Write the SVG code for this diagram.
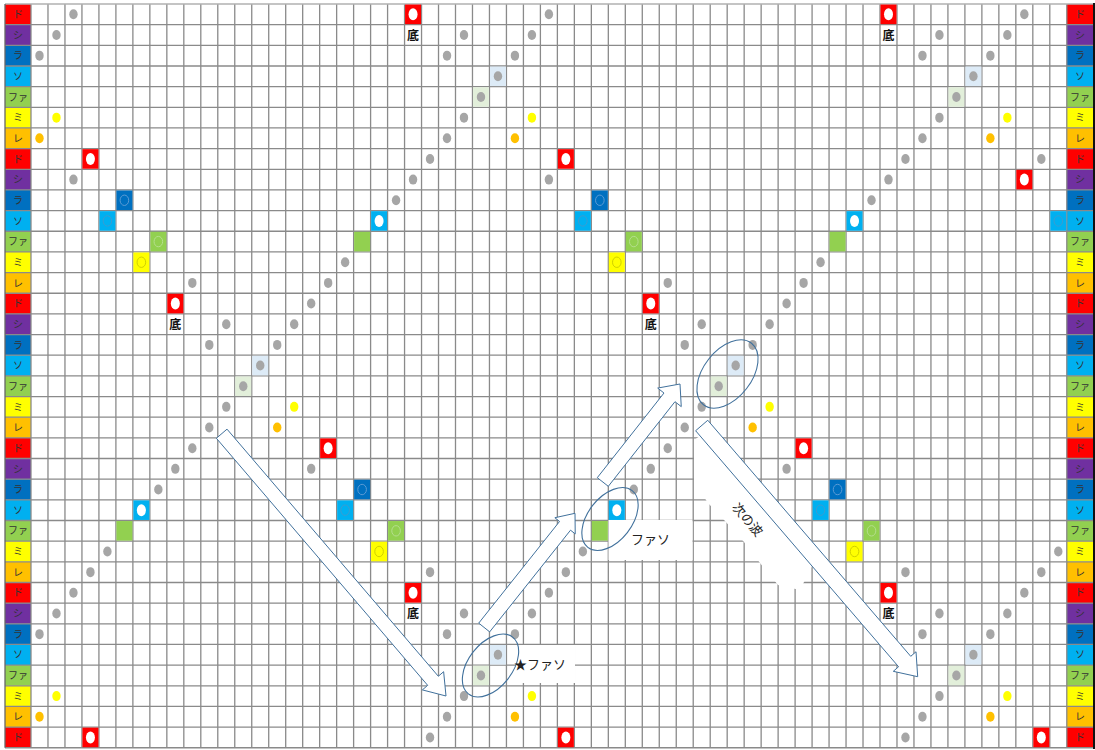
<svg xmlns="http://www.w3.org/2000/svg" xmlns:xlink="http://www.w3.org/1999/xlink" width="1095" height="750" viewBox="0 0 1095 750">
<style>
.lb{font-family:"Noto Sans CJK JP",sans-serif;font-size:10px;fill:#333;text-anchor:middle}
.bt{font-family:"Noto Sans CJK JP",sans-serif;font-size:12px;font-weight:bold;fill:#111;text-anchor:middle}
.an{font-family:"Noto Sans CJK JP",sans-serif;font-size:13px;fill:#222}
.arr{fill:#fff;stroke:#41719C;stroke-width:1}
.ell{fill:none;stroke:#41719C;stroke-width:1.1}
.c0{fill:#FF0000}.c1{fill:#7030A0}.c2{fill:#0070C0}.c3{fill:#00B0F0}.c4{fill:#92D050}.c5{fill:#FFFF00}.c6{fill:#FFC000}
</style>
<defs>
<g id="g"><ellipse rx="4.2" ry="5" fill="#A6A6A6"/></g>
<g id="yd"><ellipse rx="4.2" ry="5" fill="#FFFF00"/></g>
<g id="od"><ellipse rx="4.2" ry="5" fill="#FFC000"/></g>
<g id="lbg"><rect x="-8" y="-9.8" width="16" height="19.6" fill="#DDEBF7"/><ellipse rx="4.2" ry="5" fill="#A6A6A6"/></g>
<g id="lgg"><rect x="-8" y="-9.8" width="16" height="19.6" fill="#E2EFDA"/><ellipse rx="4.2" ry="5" fill="#A6A6A6"/></g>
<g id="R"><rect x="-8" y="-9.8" width="16" height="19.6" fill="#FF0000"/><ellipse rx="4.5" ry="6" fill="#fff"/></g>
<g id="B"><rect x="-8" y="-9.8" width="16" height="19.6" fill="#0070C0"/><ellipse rx="4.3" ry="5.2" fill="none" stroke="#5B9BD5" stroke-width="1"/></g>
<g id="L"><rect x="-8" y="-9.8" width="16" height="19.6" fill="#00B0F0"/><ellipse rx="4.3" ry="5.2" fill="none" stroke="#3C9CD0" stroke-width="1"/></g>
<g id="W"><rect x="-8" y="-9.8" width="16" height="19.6" fill="#00B0F0"/><ellipse rx="4.5" ry="6" fill="#fff"/></g>
<g id="G"><rect x="-8" y="-9.8" width="16" height="19.6" fill="#92D050"/><ellipse rx="4.3" ry="5.2" fill="none" stroke="#B5DE8E" stroke-width="1"/></g>
<g id="P"><rect x="-8" y="-9.8" width="16" height="19.6" fill="#92D050"/></g>
<g id="Y"><rect x="-8" y="-9.8" width="16" height="19.6" fill="#FFFF00"/><ellipse rx="4.3" ry="5.2" fill="none" stroke="#D0D000" stroke-width="1"/></g>
</defs>
<rect width="1095" height="750" fill="#fff"/>
<g id="labels-left">
<rect class="c0" x="5" y="4" width="26" height="20.66"/><rect class="c1" x="5" y="24.66" width="26" height="20.66"/><rect class="c2" x="5" y="45.32" width="26" height="20.66"/><rect class="c3" x="5" y="65.98" width="26" height="20.66"/><rect class="c4" x="5" y="86.64" width="26" height="20.66"/><rect class="c5" x="5" y="107.3" width="26" height="20.66"/><rect class="c6" x="5" y="127.96" width="26" height="20.66"/>
<rect class="c0" x="5" y="148.62" width="26" height="20.66"/><rect class="c1" x="5" y="169.28" width="26" height="20.66"/><rect class="c2" x="5" y="189.94" width="26" height="20.66"/><rect class="c3" x="5" y="210.6" width="26" height="20.66"/><rect class="c4" x="5" y="231.26" width="26" height="20.66"/><rect class="c5" x="5" y="251.92" width="26" height="20.66"/><rect class="c6" x="5" y="272.58" width="26" height="20.66"/>
<rect class="c0" x="5" y="293.24" width="26" height="20.66"/><rect class="c1" x="5" y="313.9" width="26" height="20.66"/><rect class="c2" x="5" y="334.56" width="26" height="20.66"/><rect class="c3" x="5" y="355.22" width="26" height="20.66"/><rect class="c4" x="5" y="375.88" width="26" height="20.66"/><rect class="c5" x="5" y="396.54" width="26" height="20.66"/><rect class="c6" x="5" y="417.2" width="26" height="20.66"/>
<rect class="c0" x="5" y="437.86" width="26" height="20.66"/><rect class="c1" x="5" y="458.52" width="26" height="20.66"/><rect class="c2" x="5" y="479.18" width="26" height="20.66"/><rect class="c3" x="5" y="499.84" width="26" height="20.66"/><rect class="c4" x="5" y="520.5" width="26" height="20.66"/><rect class="c5" x="5" y="541.16" width="26" height="20.66"/><rect class="c6" x="5" y="561.82" width="26" height="20.66"/>
<rect class="c0" x="5" y="582.48" width="26" height="20.66"/><rect class="c1" x="5" y="603.14" width="26" height="20.66"/><rect class="c2" x="5" y="623.8" width="26" height="20.66"/><rect class="c3" x="5" y="644.46" width="26" height="20.66"/><rect class="c4" x="5" y="665.12" width="26" height="20.66"/><rect class="c5" x="5" y="685.78" width="26" height="20.66"/><rect class="c6" x="5" y="706.44" width="26" height="20.66"/>
<rect class="c0" x="5" y="727.1" width="26" height="20.66"/>
</g>
<g id="labels-right">
<rect class="c0" x="1066.78" y="4" width="26.5" height="20.66"/><rect class="c1" x="1066.78" y="24.66" width="26.5" height="20.66"/><rect class="c2" x="1066.78" y="45.32" width="26.5" height="20.66"/><rect class="c3" x="1066.78" y="65.98" width="26.5" height="20.66"/><rect class="c4" x="1066.78" y="86.64" width="26.5" height="20.66"/><rect class="c5" x="1066.78" y="107.3" width="26.5" height="20.66"/><rect class="c6" x="1066.78" y="127.96" width="26.5" height="20.66"/>
<rect class="c0" x="1066.78" y="148.62" width="26.5" height="20.66"/><rect class="c1" x="1066.78" y="169.28" width="26.5" height="20.66"/><rect class="c2" x="1066.78" y="189.94" width="26.5" height="20.66"/><rect class="c3" x="1066.78" y="210.6" width="26.5" height="20.66"/><rect class="c4" x="1066.78" y="231.26" width="26.5" height="20.66"/><rect class="c5" x="1066.78" y="251.92" width="26.5" height="20.66"/><rect class="c6" x="1066.78" y="272.58" width="26.5" height="20.66"/>
<rect class="c0" x="1066.78" y="293.24" width="26.5" height="20.66"/><rect class="c1" x="1066.78" y="313.9" width="26.5" height="20.66"/><rect class="c2" x="1066.78" y="334.56" width="26.5" height="20.66"/><rect class="c3" x="1066.78" y="355.22" width="26.5" height="20.66"/><rect class="c4" x="1066.78" y="375.88" width="26.5" height="20.66"/><rect class="c5" x="1066.78" y="396.54" width="26.5" height="20.66"/><rect class="c6" x="1066.78" y="417.2" width="26.5" height="20.66"/>
<rect class="c0" x="1066.78" y="437.86" width="26.5" height="20.66"/><rect class="c1" x="1066.78" y="458.52" width="26.5" height="20.66"/><rect class="c2" x="1066.78" y="479.18" width="26.5" height="20.66"/><rect class="c3" x="1066.78" y="499.84" width="26.5" height="20.66"/><rect class="c4" x="1066.78" y="520.5" width="26.5" height="20.66"/><rect class="c5" x="1066.78" y="541.16" width="26.5" height="20.66"/><rect class="c6" x="1066.78" y="561.82" width="26.5" height="20.66"/>
<rect class="c0" x="1066.78" y="582.48" width="26.5" height="20.66"/><rect class="c1" x="1066.78" y="603.14" width="26.5" height="20.66"/><rect class="c2" x="1066.78" y="623.8" width="26.5" height="20.66"/><rect class="c3" x="1066.78" y="644.46" width="26.5" height="20.66"/><rect class="c4" x="1066.78" y="665.12" width="26.5" height="20.66"/><rect class="c5" x="1066.78" y="685.78" width="26.5" height="20.66"/><rect class="c6" x="1066.78" y="706.44" width="26.5" height="20.66"/>
<rect class="c0" x="1066.78" y="727.1" width="26.5" height="20.66"/>
</g>
<g id="grid" fill="none" stroke="#8A8A8A" stroke-width="1.3">
<path d="M31 4V747.76M47.98 4V747.76M64.96 4V747.76M81.94 4V747.76M98.92 4V747.76M115.9 4V747.76M132.88 4V747.76M149.86 4V747.76M166.84 4V747.76M183.82 4V747.76M200.8 4V747.76M217.78 4V747.76M234.76 4V747.76M251.74 4V747.76M268.72 4V747.76M285.7 4V747.76M302.68 4V747.76M319.66 4V747.76M336.64 4V747.76M353.62 4V747.76M370.6 4V747.76M387.58 4V747.76M404.56 4V747.76M421.54 4V747.76M438.52 4V747.76M455.5 4V747.76M472.48 4V747.76M489.46 4V747.76M506.44 4V747.76M523.42 4V747.76M540.4 4V747.76M557.38 4V747.76M574.36 4V747.76M591.34 4V747.76M608.32 4V747.76M625.3 4V747.76M642.28 4V747.76M659.26 4V747.76M676.24 4V747.76M693.22 4V747.76M710.2 4V747.76M727.18 4V747.76M744.16 4V747.76M761.14 4V747.76M778.12 4V747.76M795.1 4V747.76M812.08 4V747.76M829.06 4V747.76M846.04 4V747.76M863.02 4V747.76M880 4V747.76M896.98 4V747.76M913.96 4V747.76M930.94 4V747.76M947.92 4V747.76M964.9 4V747.76M981.88 4V747.76M998.86 4V747.76M1015.84 4V747.76M1032.82 4V747.76M1049.8 4V747.76M1066.78 4V747.76"/>
<path d="M5 24.66H1093M5 45.32H1093M5 65.98H1093M5 86.64H1093M5 107.3H1093M5 127.96H1093M5 148.62H1093M5 169.28H1093M5 189.94H1093M5 210.6H1093M5 231.26H1093M5 251.92H1093M5 272.58H1093M5 293.24H1093M5 313.9H1093M5 334.56H1093M5 355.22H1093M5 375.88H1093M5 396.54H1093M5 417.2H1093M5 437.86H1093M5 458.52H1093M5 479.18H1093M5 499.84H1093M5 520.5H1093M5 541.16H1093M5 561.82H1093M5 582.48H1093M5 603.14H1093M5 623.8H1093M5 644.46H1093M5 665.12H1093M5 685.78H1093M5 706.44H1093M5 727.1H1093M5 747.76H1093"/>
<path d="M5 4H1093" stroke="#B0B0B0"/>
<path d="M5 4V747.76" stroke="#666"/>
<path d="M1094 3V749" stroke="#111" stroke-width="2"/>
</g>
<g id="label-text">
<text class="lb" x="18" y="17.9">ド</text><text class="lb" x="18" y="38.6">シ</text><text class="lb" x="18" y="59.3">ラ</text><text class="lb" x="18" y="79.9">ソ</text><text class="lb" x="18" y="100.6">ファ</text><text class="lb" x="18" y="121.2">ミ</text><text class="lb" x="18" y="141.9">レ</text>
<text class="lb" x="18" y="162.6">ド</text><text class="lb" x="18" y="183.2">シ</text><text class="lb" x="18" y="203.9">ラ</text><text class="lb" x="18" y="224.5">ソ</text><text class="lb" x="18" y="245.2">ファ</text><text class="lb" x="18" y="265.9">ミ</text><text class="lb" x="18" y="286.5">レ</text>
<text class="lb" x="18" y="307.2">ド</text><text class="lb" x="18" y="327.8">シ</text><text class="lb" x="18" y="348.5">ラ</text><text class="lb" x="18" y="369.2">ソ</text><text class="lb" x="18" y="389.8">ファ</text><text class="lb" x="18" y="410.5">ミ</text><text class="lb" x="18" y="431.1">レ</text>
<text class="lb" x="18" y="451.8">ド</text><text class="lb" x="18" y="472.5">シ</text><text class="lb" x="18" y="493.1">ラ</text><text class="lb" x="18" y="513.8">ソ</text><text class="lb" x="18" y="534.4">ファ</text><text class="lb" x="18" y="555.1">ミ</text><text class="lb" x="18" y="575.8">レ</text>
<text class="lb" x="18" y="596.4">ド</text><text class="lb" x="18" y="617.1">シ</text><text class="lb" x="18" y="637.7">ラ</text><text class="lb" x="18" y="658.4">ソ</text><text class="lb" x="18" y="679.1">ファ</text><text class="lb" x="18" y="699.7">ミ</text><text class="lb" x="18" y="720.4">レ</text>
<text class="lb" x="18" y="741">ド</text>
<text class="lb" x="1080" y="17.9">ド</text><text class="lb" x="1080" y="38.6">シ</text><text class="lb" x="1080" y="59.3">ラ</text><text class="lb" x="1080" y="79.9">ソ</text><text class="lb" x="1080" y="100.6">ファ</text><text class="lb" x="1080" y="121.2">ミ</text><text class="lb" x="1080" y="141.9">レ</text>
<text class="lb" x="1080" y="162.6">ド</text><text class="lb" x="1080" y="183.2">シ</text><text class="lb" x="1080" y="203.9">ラ</text><text class="lb" x="1080" y="224.5">ソ</text><text class="lb" x="1080" y="245.2">ファ</text><text class="lb" x="1080" y="265.9">ミ</text><text class="lb" x="1080" y="286.5">レ</text>
<text class="lb" x="1080" y="307.2">ド</text><text class="lb" x="1080" y="327.8">シ</text><text class="lb" x="1080" y="348.5">ラ</text><text class="lb" x="1080" y="369.2">ソ</text><text class="lb" x="1080" y="389.8">ファ</text><text class="lb" x="1080" y="410.5">ミ</text><text class="lb" x="1080" y="431.1">レ</text>
<text class="lb" x="1080" y="451.8">ド</text><text class="lb" x="1080" y="472.5">シ</text><text class="lb" x="1080" y="493.1">ラ</text><text class="lb" x="1080" y="513.8">ソ</text><text class="lb" x="1080" y="534.4">ファ</text><text class="lb" x="1080" y="555.1">ミ</text><text class="lb" x="1080" y="575.8">レ</text>
<text class="lb" x="1080" y="596.4">ド</text><text class="lb" x="1080" y="617.1">シ</text><text class="lb" x="1080" y="637.7">ラ</text><text class="lb" x="1080" y="658.4">ソ</text><text class="lb" x="1080" y="679.1">ファ</text><text class="lb" x="1080" y="699.7">ミ</text><text class="lb" x="1080" y="720.4">レ</text>
<text class="lb" x="1080" y="741">ド</text>
</g>
<g id="gray-dots">
<use href="#g" x="73.45" y="14.33"/><use href="#g" x="548.89" y="14.33"/><use href="#g" x="1024.33" y="14.33"/>
<use href="#g" x="56.47" y="34.99"/><use href="#g" x="463.99" y="34.99"/><use href="#g" x="531.91" y="34.99"/><use href="#g" x="939.43" y="34.99"/><use href="#g" x="1007.35" y="34.99"/>
<use href="#g" x="39.49" y="55.65"/><use href="#g" x="447.01" y="55.65"/><use href="#g" x="514.93" y="55.65"/><use href="#g" x="922.45" y="55.65"/><use href="#g" x="990.37" y="55.65"/>
<use href="#g" x="463.99" y="117.63"/><use href="#g" x="939.43" y="117.63"/>
<use href="#g" x="447.01" y="138.29"/><use href="#g" x="922.45" y="138.29"/>
<use href="#g" x="430.03" y="158.95"/><use href="#g" x="905.47" y="158.95"/><use href="#g" x="1041.31" y="158.95"/>
<use href="#g" x="73.45" y="179.61"/><use href="#g" x="413.05" y="179.61"/><use href="#g" x="548.89" y="179.61"/><use href="#g" x="888.49" y="179.61"/>
<use href="#g" x="396.07" y="200.27"/><use href="#g" x="871.51" y="200.27"/>
<use href="#g" x="345.13" y="262.25"/><use href="#g" x="820.57" y="262.25"/>
<use href="#g" x="192.31" y="282.91"/><use href="#g" x="328.15" y="282.91"/><use href="#g" x="667.75" y="282.91"/><use href="#g" x="803.59" y="282.91"/>
<use href="#g" x="311.17" y="303.57"/><use href="#g" x="786.61" y="303.57"/>
<use href="#g" x="226.27" y="324.23"/><use href="#g" x="294.19" y="324.23"/><use href="#g" x="701.71" y="324.23"/><use href="#g" x="769.63" y="324.23"/>
<use href="#g" x="209.29" y="344.89"/><use href="#g" x="277.21" y="344.89"/><use href="#g" x="684.73" y="344.89"/><use href="#g" x="752.65" y="344.89"/>
<use href="#g" x="226.27" y="406.87"/><use href="#g" x="701.71" y="406.87"/>
<use href="#g" x="209.29" y="427.53"/><use href="#g" x="684.73" y="427.53"/>
<use href="#g" x="192.31" y="448.19"/><use href="#g" x="667.75" y="448.19"/>
<use href="#g" x="175.33" y="468.85"/><use href="#g" x="311.17" y="468.85"/><use href="#g" x="650.77" y="468.85"/><use href="#g" x="786.61" y="468.85"/>
<use href="#g" x="158.35" y="489.51"/><use href="#g" x="633.79" y="489.51"/>
<use href="#g" x="107.41" y="551.49"/><use href="#g" x="582.85" y="551.49"/><use href="#g" x="1058.29" y="551.49"/>
<use href="#g" x="90.43" y="572.15"/><use href="#g" x="430.03" y="572.15"/><use href="#g" x="565.87" y="572.15"/><use href="#g" x="905.47" y="572.15"/><use href="#g" x="1041.31" y="572.15"/>
<use href="#g" x="73.45" y="592.81"/><use href="#g" x="548.89" y="592.81"/><use href="#g" x="1024.33" y="592.81"/>
<use href="#g" x="56.47" y="613.47"/><use href="#g" x="463.99" y="613.47"/><use href="#g" x="531.91" y="613.47"/><use href="#g" x="939.43" y="613.47"/><use href="#g" x="1007.35" y="613.47"/>
<use href="#g" x="39.49" y="634.13"/><use href="#g" x="447.01" y="634.13"/><use href="#g" x="514.93" y="634.13"/><use href="#g" x="922.45" y="634.13"/><use href="#g" x="990.37" y="634.13"/>
<use href="#g" x="463.99" y="696.11"/><use href="#g" x="939.43" y="696.11"/>
<use href="#g" x="447.01" y="716.77"/><use href="#g" x="922.45" y="716.77"/>
<use href="#g" x="430.03" y="737.43"/><use href="#g" x="905.47" y="737.43"/>
</g>
<g id="tint-cells">
<use href="#lbg" x="497.95" y="76.31"/><use href="#lbg" x="973.39" y="76.31"/><use href="#lbg" x="260.23" y="365.55"/><use href="#lbg" x="735.67" y="365.55"/><use href="#lbg" x="497.95" y="654.79"/><use href="#lbg" x="973.39" y="654.79"/>
<use href="#lgg" x="480.97" y="96.97"/><use href="#lgg" x="956.41" y="96.97"/><use href="#lgg" x="243.25" y="386.21"/><use href="#lgg" x="718.69" y="386.21"/><use href="#lgg" x="480.97" y="675.45"/><use href="#lgg" x="956.41" y="675.45"/>
</g>
<g id="color-dots">
<use href="#yd" x="56.47" y="117.63"/><use href="#yd" x="531.91" y="117.63"/><use href="#yd" x="1007.35" y="117.63"/><use href="#yd" x="294.19" y="406.87"/><use href="#yd" x="769.63" y="406.87"/><use href="#yd" x="56.47" y="696.11"/><use href="#yd" x="531.91" y="696.11"/><use href="#yd" x="1007.35" y="696.11"/>
<use href="#od" x="39.49" y="138.29"/><use href="#od" x="514.93" y="138.29"/><use href="#od" x="990.37" y="138.29"/><use href="#od" x="277.21" y="427.53"/><use href="#od" x="752.65" y="427.53"/><use href="#od" x="39.49" y="716.77"/><use href="#od" x="514.93" y="716.77"/><use href="#od" x="990.37" y="716.77"/>
</g>
<g id="red-cells">
<use href="#R" x="413.05" y="14.33"/><use href="#R" x="888.49" y="14.33"/><use href="#R" x="90.43" y="158.95"/><use href="#R" x="565.87" y="158.95"/><use href="#R" x="1024.33" y="179.61"/><use href="#R" x="175.33" y="303.57"/><use href="#R" x="650.77" y="303.57"/><use href="#R" x="328.15" y="448.19"/><use href="#R" x="803.59" y="448.19"/><use href="#R" x="413.05" y="592.81"/><use href="#R" x="888.49" y="592.81"/><use href="#R" x="90.43" y="737.43"/><use href="#R" x="565.87" y="737.43"/><use href="#R" x="1041.31" y="737.43"/>
</g>
<g id="color-cells">
<use href="#B" x="124.39" y="200.27"/><use href="#B" x="599.83" y="200.27"/><use href="#B" x="362.11" y="489.51"/><use href="#B" x="837.55" y="489.51"/>
<use href="#L" x="107.41" y="220.93"/><use href="#L" x="582.85" y="220.93"/><use href="#L" x="1058.29" y="220.93"/><use href="#L" x="345.13" y="510.17"/><use href="#L" x="820.57" y="510.17"/>
<use href="#W" x="379.09" y="220.93"/><use href="#W" x="854.53" y="220.93"/><use href="#W" x="141.37" y="510.17"/><use href="#W" x="616.81" y="510.17"/>
<use href="#G" x="158.35" y="241.59"/><use href="#G" x="633.79" y="241.59"/><use href="#G" x="396.07" y="530.83"/><use href="#G" x="871.51" y="530.83"/>
<use href="#P" x="362.11" y="241.59"/><use href="#P" x="837.55" y="241.59"/><use href="#P" x="124.39" y="530.83"/><use href="#P" x="599.83" y="530.83"/>
<use href="#Y" x="141.37" y="262.25"/><use href="#Y" x="616.81" y="262.25"/><use href="#Y" x="379.09" y="551.49"/><use href="#Y" x="854.53" y="551.49"/>
</g>
<g id="bottom-marks">
<text class="bt" x="413.05" y="39.5">底</text><text class="bt" x="888.49" y="39.5">底</text><text class="bt" x="175.33" y="328.7">底</text><text class="bt" x="650.77" y="328.7">底</text><text class="bt" x="413.05" y="618">底</text><text class="bt" x="888.49" y="618">底</text>
</g>
<g id="textboxes" fill="#fff">
<rect x="516" y="645" width="59" height="38"/>
<rect x="608.5" y="520" width="84" height="40"/>
<polygon points="694,440 700,436 812,566 800,590 778,585 760,563 744,542 725,521 708,503 694,482"/>
</g>
<g id="connectors">
<polygon class="arr" points="216.38,438.25 427.68,685.35 422.36,689.9 446,696 443.64,671.7 438.32,676.25 227.02,429.15"/>
<polygon class="arr" points="489.68,631.86 570.52,530.18 575.22,533.91 575,513.3 554.86,517.73 559.56,521.46 478.72,623.14"/>
<polygon class="arr" points="608.3,486.33 674.98,401.68 681.26,406.63 680,384 657.7,388.07 663.98,393.02 597.3,477.67"/>
<polygon class="arr" points="695.63,430.72 898.59,666.76 893.29,671.32 917.7,676.7 916.03,651.76 910.73,656.32 707.77,420.28"/>
</g>
<g id="ellipses">
<ellipse class="ell" cx="490.5" cy="665.5" rx="36" ry="22" transform="rotate(-52 490.5 665.5)"/>
<ellipse class="ell" cx="610" cy="519" rx="36" ry="22" transform="rotate(-52 610 519)"/>
<ellipse class="ell" cx="727.5" cy="374" rx="39" ry="24" transform="rotate(-52 727.5 374)"/>
</g>
<g id="annotations">
<text class="an" x="514" y="669">★ファソ</text>
<text class="an" x="631" y="544">ファソ</text>
<text class="an" x="747" y="524" text-anchor="middle" transform="rotate(49.3 747 520)">次の波</text>
</g>
</svg>
